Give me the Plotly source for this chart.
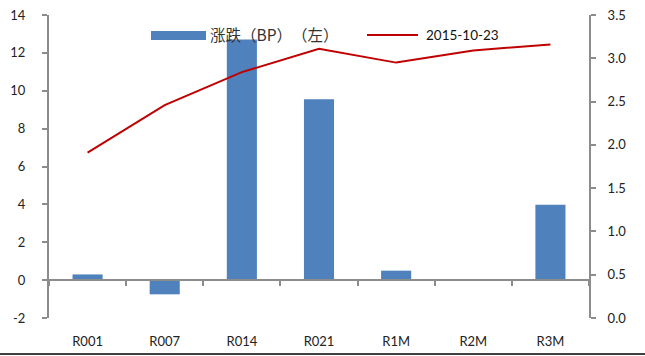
import plotly.graph_objects as go

# Repo tenors and data
categories = ["R001", "R007", "R014", "R021", "R1M", "R2M", "R3M"]
change_bp = [0.3, -0.75, 12.7, 9.55, 0.5, 0.0, 3.98]        # left axis, bars
rate_20151023 = [1.91, 2.46, 2.84, 3.11, 2.95, 3.09, 3.16]   # right axis, line

left_ticks = [-2, 0, 2, 4, 6, 8, 10, 12, 14]
right_ticks = [0.0, 0.5, 1.0, 1.5, 2.0, 2.5, 3.0, 3.5]

bar_name = "涨跌（BP）（左）"
line_name = "2015-10-23"

BAR_COLOR = "#4F81BD"
LINE_COLOR = "#C00000"
AXIS_COLOR = "#8C8C8C"
FONT = "Lato, 'Noto Sans CJK SC', sans-serif"
CJK_FONT = "Noto Sans CJK SC"

W, H = 645, 356
M_L, M_R, M_T, M_B = 49, 56, 15, 38

Y_MIN, Y_MAX = -2, 14
zero_frac = (0 - Y_MIN) / (Y_MAX - Y_MIN)

fig = go.Figure()

fig.add_trace(go.Bar(
    x=categories, y=change_bp, name=bar_name,
    marker=dict(color=BAR_COLOR, line=dict(width=0)),
    yaxis="y", xaxis="x2", showlegend=False,
))
fig.add_trace(go.Scatter(
    x=categories, y=rate_20151023, name=line_name, mode="lines",
    line=dict(color=LINE_COLOR, width=2),
    yaxis="y2", xaxis="x2", showlegend=False,
))
# empty trace so the zero-line category axis is drawn
fig.add_trace(go.Scatter(
    x=categories, y=[None] * len(categories), mode="lines",
    xaxis="x", yaxis="y", showlegend=False, hoverinfo="skip",
))

fig.update_layout(
    width=W, height=H,
    margin=dict(l=M_L, r=M_R, t=M_T, b=M_B, pad=0),
    paper_bgcolor="white", plot_bgcolor="white",
    font=dict(family=FONT, size=13, color="#222222"),
    bargap=0.61,
    # category axis drawn along the zero line (ticks only)
    xaxis=dict(
        type="category", categoryorder="array", categoryarray=categories,
        range=[-0.5, len(categories) - 0.5],
        anchor="free", position=zero_frac, overlaying="x2",
        showline=True, linecolor=AXIS_COLOR, linewidth=2,
        ticks="outside", ticklen=5, tickcolor=AXIS_COLOR, tickwidth=2,
        tickson="boundaries", showticklabels=False, showgrid=False,
        zeroline=False, automargin=False,
    ),
    # category labels at the bottom of the plot
    xaxis2=dict(
        type="category", categoryorder="array", categoryarray=categories,
        range=[-0.5, len(categories) - 0.5],
        anchor="y", showline=False, ticks="", showgrid=False,
        ticklabelstandoff=14, tickfont=dict(size=13), automargin=False,
    ),
    yaxis=dict(
        range=[Y_MIN, Y_MAX],
        tickvals=left_ticks, ticktext=[str(v) for v in left_ticks],
        showline=True, linecolor=AXIS_COLOR, linewidth=2,
        ticks="outside", ticklen=5, tickcolor=AXIS_COLOR, tickwidth=2,
        showgrid=False, zeroline=False, ticklabelstandoff=14,
        tickfont=dict(size=13), automargin=False,
    ),
    yaxis2=dict(
        range=[0, 3.5],
        tickvals=right_ticks, ticktext=[f"{v:.1f}" for v in right_ticks],
        overlaying="y", side="right", anchor="x2",
        showline=True, linecolor=AXIS_COLOR, linewidth=2,
        ticks="outside", ticklen=5, tickcolor=AXIS_COLOR, tickwidth=2,
        showgrid=False, zeroline=False, ticklabelstandoff=9,
        tickfont=dict(size=13), automargin=False,
    ),
)

# Legend drawn as symbols + text in paper pixels
def px_x(p):
    return (p - M_L) / (W - M_L - M_R)

def px_y(p):
    return 1 - (p - M_T) / (H - M_T - M_B)

leg_y = 35
fig.add_shape(type="rect", xref="paper", yref="paper",
              x0=px_x(151), x1=px_x(206), y0=px_y(leg_y - 4), y1=px_y(leg_y + 5),
              fillcolor=BAR_COLOR, line=dict(width=0))
# keep full-width brackets at full width
bar_label = ('<span style="text-spacing-trim: space-all; '
             'font-feature-settings: normal">' + bar_name + '</span>')
fig.add_annotation(xref="paper", yref="paper", x=px_x(208), y=px_y(leg_y - 1),
                   text=bar_label, showarrow=False, xanchor="left", yanchor="middle",
                   font=dict(size=15.5, family=CJK_FONT, color="#333333"))
fig.add_shape(type="line", xref="paper", yref="paper",
              x0=px_x(367), x1=px_x(418), y0=px_y(leg_y), y1=px_y(leg_y),
              line=dict(color=LINE_COLOR, width=2))
fig.add_annotation(xref="paper", yref="paper", x=px_x(424), y=px_y(leg_y),
                   text=line_name, showarrow=False, xanchor="left", yanchor="middle",
                   font=dict(size=13.5, family=FONT, color="#111111"))

# Bottom rule across the whole figure
fig.add_shape(type="line", xref="paper", yref="paper",
              x0=px_x(0), x1=px_x(W), y0=px_y(354), y1=px_y(354),
              line=dict(color="black", width=1.5))

fig.write_html("out.html")
